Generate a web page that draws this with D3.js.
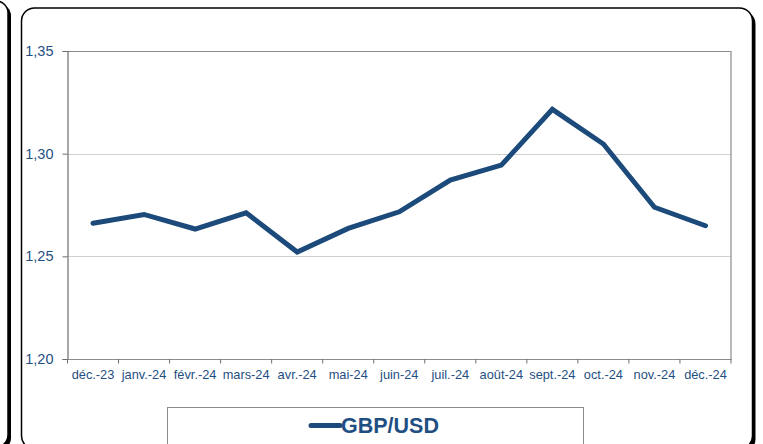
<!DOCTYPE html>
<html>
<head>
<meta charset="utf-8">
<script src="https://cdn.jsdelivr.net/npm/d3@7"></script>
<style>
  body { margin: 0; background: #fff; }
  svg { display: block; font-family: "Liberation Sans", Arial, sans-serif; }
</style>
</head>
<body>
<div id="chart"></div>
<script>
// data
const months = ["déc.-23", "janv.-24", "févr.-24", "mars-24", "avr.-24", "mai-24", "juin-24",
  "juil.-24", "août-24", "sept.-24", "oct.-24", "nov.-24", "déc.-24"];
const gbpUsd = [1.2661, 1.2704, 1.2633, 1.2712, 1.2521, 1.2636, 1.2717,
  1.2871, 1.2944, 1.3216, 1.3047, 1.2739, 1.2649];
const yTicks = [1.20, 1.25, 1.30, 1.35];
const seriesName = "GBP/USD";

const width = 763, height = 444;
const plot = { left: 67.5, top: 51, right: 731, bottom: 359 };
const textColor = "#1f4f82";
const lineColor = "#1b4a7b";

const svg = d3.select("#chart").append("svg")
  .attr("width", width)
  .attr("height", height);

// frames: previous panel edge on the left, then the main rounded box with a shadow
svg.append("rect").attr("x", -200 + 3).attr("y", 1 + 3).attr("width", 208).attr("height", 446)
  .attr("rx", 12).attr("fill", "#000");
svg.append("rect").attr("x", -200).attr("y", 1).attr("width", 208).attr("height", 446)
  .attr("rx", 12).attr("fill", "#fff").attr("stroke", "#000").attr("stroke-width", 1.5);

svg.append("rect").attr("x", 21.5 + 3).attr("y", 8 + 3).attr("width", 731).attr("height", 441)
  .attr("rx", 13).attr("fill", "#000");
svg.append("rect").attr("x", 21.5).attr("y", 8).attr("width", 731).attr("height", 441)
  .attr("rx", 13).attr("fill", "#fff").attr("stroke", "#000").attr("stroke-width", 1.5);

const x = d3.scaleBand()
  .domain(months)
  .range([plot.left, plot.right])
  .padding(0);

const y = d3.scaleLinear()
  .domain([1.20, 1.35])
  .range([plot.bottom, plot.top]);

// gridlines
svg.append("g")
  .selectAll("line")
  .data(yTicks.slice(1, -1))
  .enter()
  .append("line")
  .attr("x1", plot.left).attr("x2", plot.right)
  .attr("y1", d => Math.round(y(d)) + 0.5).attr("y2", d => Math.round(y(d)) + 0.5)
  .attr("stroke", "#cfcfcf").attr("stroke-width", 1.2);

// plot border top & right
svg.append("path")
  .attr("d", `M${plot.left},${plot.top + 0.5}H${plot.right}V${plot.bottom}`)
  .attr("fill", "none").attr("stroke", "#8c8c8c").attr("stroke-width", 1.2);

// y axis
const yAxis = svg.append("g")
  .attr("transform", `translate(${plot.left},0)`)
  .call(d3.axisLeft(y)
    .tickValues(yTicks)
    .tickSize(5)
    .tickPadding(9)
    .tickFormat(d => d3.format(".2f")(d).replace(".", ",")));
yAxis.select(".domain").attr("stroke", "#6e6e6e").attr("stroke-width", 1.2);
yAxis.selectAll(".tick line").attr("stroke", "#6e6e6e");
yAxis.selectAll("text")
  .attr("fill", textColor)
  .style("font-size", "14.5px")
  .style("font-family", "'Liberation Sans', Arial, sans-serif");

// x axis: labels at band centres, ticks at band edges
const xAxis = svg.append("g")
  .attr("transform", `translate(0,${plot.bottom})`)
  .call(d3.axisBottom(x).tickSize(0).tickPadding(11));
xAxis.select(".domain").attr("stroke", "#8c8c8c").attr("stroke-width", 1.2);
xAxis.selectAll("text")
  .attr("fill", textColor)
  .style("font-size", "12.8px")
  .style("font-family", "'Liberation Sans', Arial, sans-serif");

const edges = months.map(m => x(m)).concat([x.range()[1]]);
svg.append("g")
  .selectAll("line")
  .data(edges)
  .enter()
  .append("line")
  .attr("x1", d => d).attr("x2", d => d)
  .attr("y1", plot.bottom).attr("y2", plot.bottom + 4.5)
  .attr("stroke", "#6e6e6e").attr("stroke-width", 1);

// series line
const line = d3.line()
  .x((d, i) => x(months[i]) + x.bandwidth() / 2)
  .y(d => y(d));

svg.append("path")
  .datum(gbpUsd)
  .attr("d", line)
  .attr("fill", "none")
  .attr("stroke", lineColor)
  .attr("stroke-width", 5)
  .attr("stroke-linejoin", "miter")
  .attr("stroke-linecap", "round");

// legend
const legend = svg.append("g");
legend.append("rect")
  .attr("x", 167.5).attr("y", 407.5).attr("width", 416).attr("height", 60)
  .attr("fill", "#fff").attr("stroke", "#8c8c8c").attr("stroke-width", 1);
legend.append("line")
  .attr("x1", 311).attr("x2", 340).attr("y1", 425.5).attr("y2", 425.5)
  .attr("stroke", lineColor).attr("stroke-width", 5).attr("stroke-linecap", "round");
legend.append("text")
  .attr("x", 341).attr("y", 433)
  .attr("fill", textColor)
  .style("font-size", "21.5px")
  .style("font-weight", "bold")
  .text(seriesName);
</script>
</body>
</html>
